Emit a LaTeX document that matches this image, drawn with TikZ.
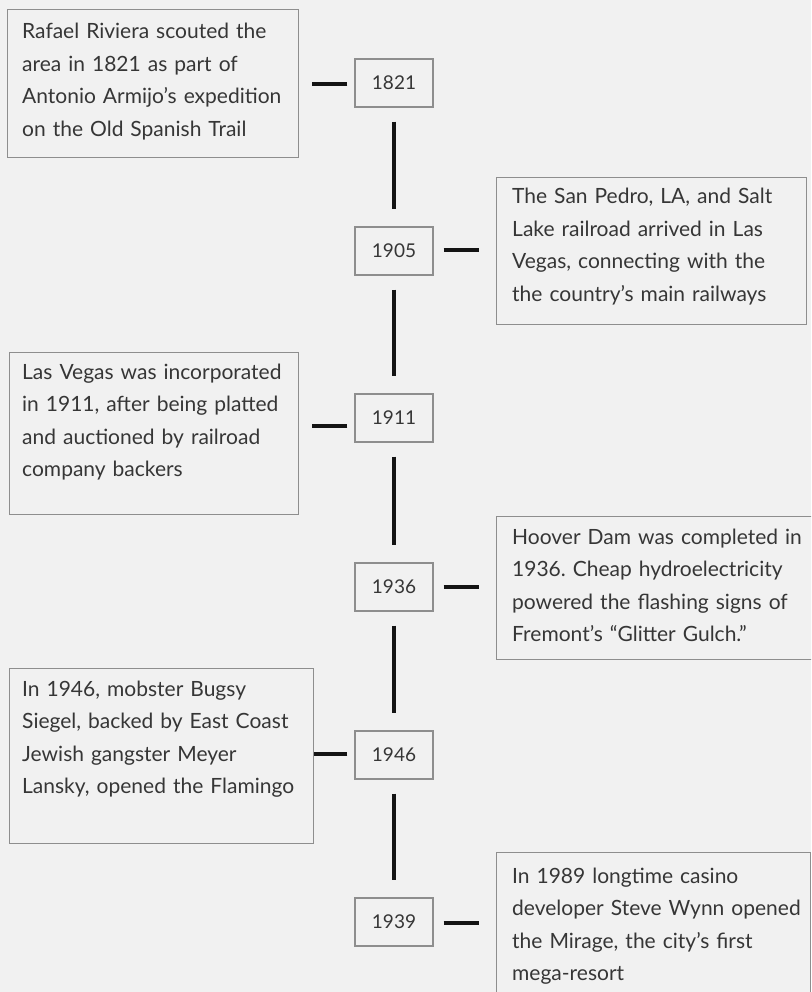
\documentclass[tikz,border=0pt]{standalone}
\usepackage{fontspec}
\setmainfont{Lato}
\definecolor{bg}{HTML}{F1F1F1}
\definecolor{edge}{HTML}{8E8E8E}
\definecolor{ink}{HTML}{363636}
\begin{document}
\frenchspacing
\begin{tikzpicture}[x=1pt,y=-1pt,
  tbox/.style={draw=edge,line width=1.2pt,fill=bg,anchor=north west,inner sep=0pt},
  ttext/.style={anchor=base west,inner sep=0pt,text=ink,align=left,text width=320pt,
     font=\fontsize{21}{32.5}\selectfont},
  ybox/.style={draw=edge,line width=1.2pt,fill=bg,minimum width=78pt,minimum height=48pt,inner sep=0pt,
     text=ink,font=\fontsize{19}{22}\selectfont},
  conn/.style={line width=4pt,draw=black!92}]
\useasboundingbox (0,0) rectangle (811,992);
\fill[bg] (0,0) rectangle (811,992);
\clip (0,0) rectangle (811,992);
% text boxes
\node[tbox,minimum width=291pt,minimum height=148pt] (b1) at (7,9) {};
\node[tbox,minimum width=310pt,minimum height=147pt] (b2) at (496,177) {};
\node[tbox,minimum width=289pt,minimum height=162pt] (b3) at (9,352) {};
\node[tbox,minimum width=320pt,minimum height=143pt] (b4) at (496,516) {};
\node[tbox,minimum width=304pt,minimum height=175pt] (b5) at (9,668) {};
\node[tbox,minimum width=314pt,minimum height=160pt] (b6) at (496,852) {};
% texts
\node[ttext] (x1) at ([shift={(15,30)}]b1.north west) {Rafael Riviera scouted the\\area in 1821 as part of\\Antonio Armijo's expedition\\on the Old Spanish Trail};
\node[ttext] (x2) at ([shift={(16,27)}]b2.north west) {The San Pedro, LA, and Salt\\Lake railroad arrived in Las\\Vegas, connecting with the\\the country’s main railways};
\node[ttext] (x3) at ([shift={(13,27)}]b3.north west) {Las Vegas was incorporated\\in 1911, after being platted\\and auctioned by railroad\\company backers};
\node[ttext] (x4) at ([shift={(16,28)}]b4.north west) {Hoover Dam was completed in\\1936. Cheap hydroelectricity\\powered the flashing signs of\\Fremont’s “Glitter Gulch.”};
\node[ttext] (x5) at ([shift={(13,28)}]b5.north west) {In 1946, mobster Bugsy\\Siegel, backed by East Coast\\Jewish gangster Meyer\\Lansky, opened the Flamingo};
\node[ttext] (x6) at ([shift={(16,31)}]b6.north west) {In 1989 longtime casino\\developer Steve Wynn opened\\the Mirage, the city's first\\mega-resort};
% year boxes
\node[ybox] (y1) at (394,83) {1821};
\node[ybox] (y2) at (394,251) {1905};
\node[ybox] (y3) at (394,418) {1911};
\node[ybox] (y4) at (394,587) {1936};
\node[ybox] (y5) at (394,755) {1946};
\node[ybox] (y6) at (394,922) {1939};
% vertical connectors
\foreach \a/\b in {y1/y2,y2/y3,y3/y4,y4/y5,y5/y6}
  \draw[conn] ([yshift=-14pt]\a.south) -- ([yshift=17pt]\b.north);
% horizontal connectors
\coordinate (c5) at ([yshift=1pt]y5.west);
\draw[conn] ([xshift=-7pt,yshift=-1pt]y1.west) -- ([xshift=-42pt,yshift=-1pt]y1.west);
\draw[conn] ([xshift=10pt,yshift=1pt]y2.east) -- ([xshift=45pt,yshift=1pt]y2.east);
\draw[conn] ([xshift=-7pt,yshift=-8pt]y3.west) -- ([xshift=-42pt,yshift=-8pt]y3.west);
\draw[conn] ([xshift=10pt]y4.east) -- ([xshift=45pt]y4.east);
\draw[conn] ([xshift=-7pt]c5) -- (b5.east |- c5);
\draw[conn] ([xshift=10pt,yshift=-1pt]y6.east) -- ([xshift=45pt,yshift=-1pt]y6.east);
\end{tikzpicture}
\end{document}
